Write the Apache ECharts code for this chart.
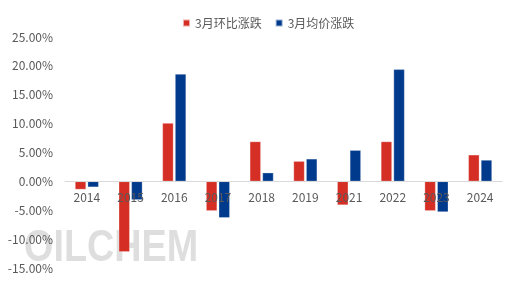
<!DOCTYPE html>
<html><head><meta charset="utf-8">
<script src="https://cdn.jsdelivr.net/npm/echarts@6/dist/echarts.min.js"></script>
<style>html,body{margin:0;padding:0;background:#fff}#c{width:509px;height:284px}</style>
</head><body><div id="c"></div>
<script>
const categories = ['2014','2015','2016','2017','2018','2019','2021','2022','2023','2024'];
const seriesNames = ['3月环比涨跌','3月均价涨跌'];
const momChange = [-1.4, -12.2, 10.1, -5.1, 6.9, 3.5, -4.1, 6.9, -5.1, 4.6];
const avgChange = [-1.0, -3.2, 18.6, -6.3, 1.5, 3.9, 5.4, 19.4, -5.3, 3.7];
const colors = ['#D52F25', '#003A8C'];
const font = '"Noto Sans CJK SC", "Noto Sans", sans-serif';
const chart = echarts.init(document.getElementById('c'));
const gridTop = 37, gridBottom = 16, H = 284, yMin = -15, yMax = 25;
const zeroOffset = (H - gridBottom - gridTop) * (0 - yMin) / (yMax - yMin);
chart.setOption({
  animation: false,
  textStyle: {fontFamily: font},
  graphic: [{
    type: 'text', left: 24, top: 226, z: 0, scaleX: 0.84,
    style: {
      text: 'OILCHEM', font: 'bold 45px "Liberation Sans", sans-serif',
      fill: 'rgba(195,195,195,0.55)'
    }
  }],
  legend: {
    top: 12, left: 177, itemWidth: 7, itemHeight: 7, itemGap: 13, icon: 'rect',
    textStyle: {color: '#595959', fontSize: 12, fontFamily: font}
  },
  grid: {left: 65, right: 7, top: gridTop, bottom: gridBottom, containLabel: false, outerBoundsMode: 'none'},
  xAxis: {
    type: 'category', data: categories, z: 5, position: 'bottom', offset: -zeroOffset,
    axisLine: {onZero: false, lineStyle: {color: '#d9d9d9'}},
    axisTick: {show: false},
    axisLabel: {color: '#595959', fontSize: 12, margin: 10, fontFamily: font}
  },
  yAxis: {
    type: 'value', min: yMin, max: yMax, interval: 5,
    splitLine: {show: false},
    axisLine: {show: false}, axisTick: {show: false},
    axisLabel: {color: '#595959', fontSize: 12, margin: 12, fontFamily: font,
      formatter: v => v.toFixed(2) + '%'}
  },
  series: [
    {name: seriesNames[0], type: 'bar', data: momChange, barWidth: 11, barGap: '15%',
     itemStyle: {color: colors[0], borderColor: 'rgba(255,255,255,0.6)', borderWidth: 0.5}},
    {name: seriesNames[1], type: 'bar', data: avgChange, barWidth: 11,
     itemStyle: {color: colors[1], borderColor: 'rgba(255,255,255,0.6)', borderWidth: 0.5}}
  ]
});
</script></body></html>
